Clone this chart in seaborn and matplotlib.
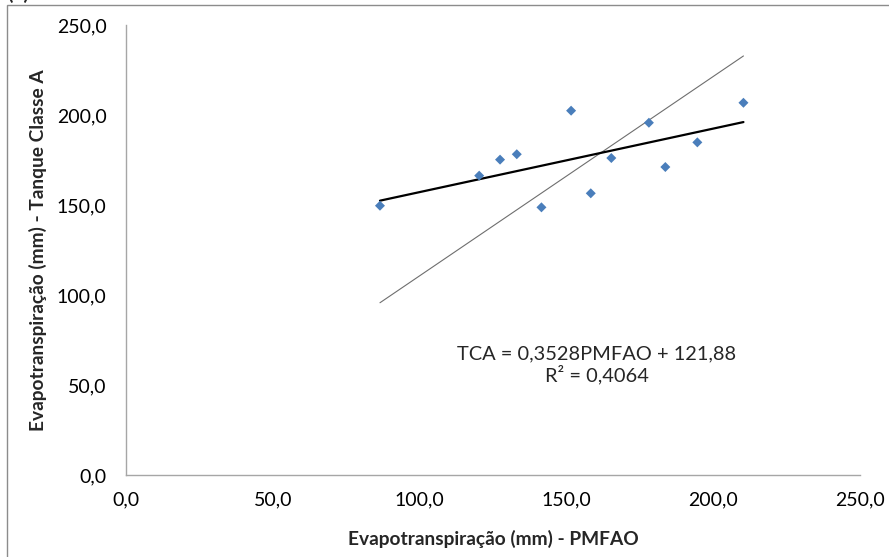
import matplotlib
matplotlib.use("Agg")
import matplotlib.pyplot as plt
from matplotlib.patches import Rectangle
import seaborn as sns
import pandas as pd
import numpy as np

# Data
pmfao = [86.5, 120.3, 127.4, 133.1, 141.5, 151.6, 158.3, 165.3, 178.1, 183.7, 194.6, 210.3]
tca = [149.6, 166.3, 175.2, 178.2, 148.7, 202.4, 156.5, 176.1, 195.7, 171.1, 184.8, 206.8]

slope = 0.3528
intercept = 121.88
r2 = 0.4064

ref_line_x = [86.5, 210.3]
ref_line_y = [95.7, 232.8]

ticks = [0, 50, 100, 150, 200, 250]
tick_labels = ["0,0", "50,0", "100,0", "150,0", "200,0", "250,0"]

x_label = "Evapotranspiração (mm) - PMFAO"
y_label = "Evapotranspiração (mm) - Tanque Classe A"
eq_text = "TCA = 0,3528PMFAO + 121,88\nR² = 0,4064"

sns.set_theme(style="white")
plt.rcParams["font.family"] = ["Lato", "DejaVu Sans"]

df = pd.DataFrame({"x": pmfao, "y": tca})
fit_x = [min(pmfao), max(pmfao)]
fit_df = pd.DataFrame({"x": fit_x, "y": [slope * v + intercept for v in fit_x]})
ref_df = pd.DataFrame({"x": ref_line_x, "y": ref_line_y})

fig = plt.figure(figsize=(8.89, 5.57), dpi=100)
ax = fig.add_axes([126 / 889, 1 - 475 / 557, (860 - 126) / 889, (475 - 25) / 557])

sns.lineplot(data=ref_df, x="x", y="y", ax=ax, color="#6e6e6e", linewidth=0.8, zorder=2)
sns.lineplot(data=fit_df, x="x", y="y", ax=ax, color="black", linewidth=1.6, zorder=3)
sns.scatterplot(data=df, x="x", y="y", ax=ax, marker="D", s=26, color="#4a7ebb",
                edgecolor="none", zorder=4)

ax.set_xlim(0, 250)
ax.set_ylim(0, 250)
ax.set_xticks(ticks)
ax.set_xticklabels(tick_labels)
ax.set_yticks(ticks)
ax.set_yticklabels(tick_labels)
ax.tick_params(axis="both", length=0, labelsize=14, colors="black")
ax.tick_params(axis="x", pad=12)
ax.tick_params(axis="y", pad=14)

for side in ["top", "right"]:
    ax.spines[side].set_visible(False)
for side in ["left", "bottom"]:
    ax.spines[side].set_color("#a6a6a6")
    ax.spines[side].set_linewidth(1.0)

ax.set_xlabel(x_label, fontsize=13.8, fontweight="bold", labelpad=15.5)
ax.set_ylabel(y_label, fontsize=13.8, fontweight="bold", labelpad=7)

ax.text(160.4, 61, eq_text, ha="center", va="center", fontsize=14.4, linespacing=1.15)

# outer chart frame (cut off at right/bottom)
fig.patches.append(Rectangle((7 / 889, -0.1), 1.2, 1.1 - 5 / 557, transform=fig.transFigure,
                             fill=False, edgecolor="#8c8c8c", linewidth=1.0, clip_on=False))
fig.text(7 / 889, 1 - 3 / 557, "(b)", ha="left", va="bottom", fontsize=14, fontweight="bold")

fig.savefig("out.png", dpi=100)
